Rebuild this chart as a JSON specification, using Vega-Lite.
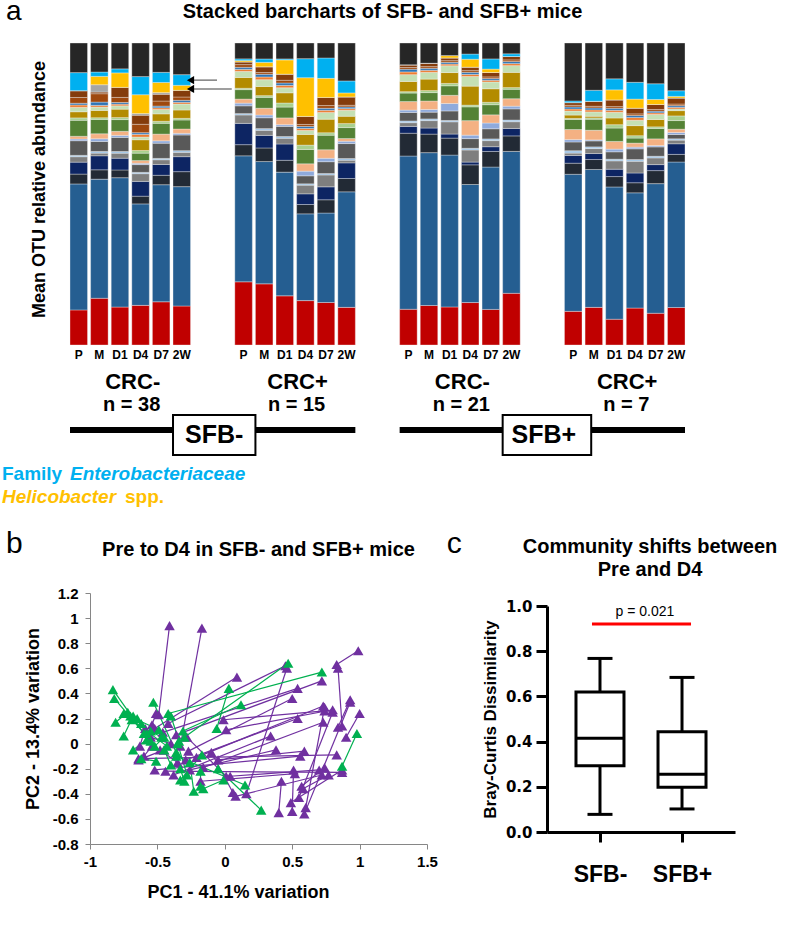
{
  "$schema": "https://vega.github.io/schema/vega-lite/v6.json",
  "padding": {"left": 2, "top": -2, "right": 0, "bottom": 0},
  "background": "white",
  "bounds": "flush",
  "spacing": 20,
  "resolve": {"scale": {"color": "independent"}},
  "config": {
    "font": "Liberation Sans",
    "view": {"stroke": null},
    "axis": {"labelFont": "Liberation Sans", "titleFont": "Liberation Sans", "labelColor": "#000", "titleColor": "#000", "grid": false},
    "title": {"font": "Liberation Sans", "fontWeight": "bold", "color": "#000", "fontSize": 20},
    "text": {"font": "Liberation Sans", "color": "#000"}
  },
  "vconcat": [
    {
      "width": 615,
      "height": 302,
      "layer": [
        {
          "data": {"values": [
            {"p":"1P","s01":103,"s02":370,"s03":29,"s04":35,"s05":16,"s06":4,"s07":43,"s08":5,"s09":8,"s10":47,"s11":7,"s12":18,"s13":13,"s14":7,"s15":5,"s16":17,"s17":20,"s18":0,"s19":0,"s20":53,"s21":87},
            {"p":"1M","s01":140,"s02":357,"s03":28,"s04":42,"s05":8,"s06":5,"s07":30,"s08":8,"s09":15,"s10":43,"s11":5,"s12":22,"s13":10,"s14":5,"s15":10,"s16":25,"s17":5,"s18":22,"s19":25,"s20":13,"s21":87},
            {"p":"1D1","s01":113,"s02":385,"s03":23,"s04":35,"s05":15,"s06":5,"s07":42,"s08":6,"s09":12,"s10":35,"s11":6,"s12":25,"s13":10,"s14":5,"s15":5,"s16":15,"s17":30,"s18":0,"s19":43,"s20":12,"s21":77},
            {"p":"1D4","s01":118,"s02":302,"s03":23,"s04":44,"s05":23,"s06":4,"s07":23,"s08":4,"s09":8,"s10":22,"s11":8,"s12":32,"s13":8,"s14":8,"s15":5,"s16":25,"s17":27,"s18":5,"s19":56,"s20":54,"s21":100},
            {"p":"1D7","s01":128,"s02":347,"s03":28,"s04":32,"s05":14,"s06":4,"s07":45,"s08":7,"s09":20,"s10":32,"s11":6,"s12":22,"s13":13,"s14":5,"s15":5,"s16":15,"s17":20,"s18":5,"s19":30,"s20":30,"s21":87},
            {"p":"12W","s01":117,"s02":358,"s03":45,"s04":45,"s05":13,"s06":5,"s07":47,"s08":5,"s09":13,"s10":27,"s11":5,"s12":25,"s13":18,"s14":5,"s15":6,"s16":10,"s17":20,"s18":0,"s19":15,"s20":32,"s21":95},
            {"p":"2P","s01":187,"s02":373,"s03":33,"s04":63,"s05":25,"s06":4,"s07":23,"s08":8,"s09":12,"s10":28,"s11":4,"s12":32,"s13":18,"s14":6,"s15":6,"s16":8,"s17":8,"s18":0,"s19":4,"s20":5,"s21":47},
            {"p":"2M","s01":180,"s02":360,"s03":40,"s04":37,"s05":15,"s06":5,"s07":32,"s08":8,"s09":20,"s10":32,"s11":5,"s12":27,"s13":20,"s14":8,"s15":8,"s16":5,"s17":17,"s18":0,"s19":13,"s20":10,"s21":47},
            {"p":"2D1","s01":145,"s02":365,"s03":35,"s04":48,"s05":17,"s06":5,"s07":30,"s08":5,"s09":20,"s10":32,"s11":12,"s12":30,"s13":15,"s14":7,"s15":7,"s16":8,"s17":18,"s18":0,"s19":42,"s20":3,"s21":47},
            {"p":"2D4","s01":133,"s02":260,"s03":28,"s04":32,"s05":26,"s06":4,"s07":24,"s08":14,"s09":22,"s10":43,"s11":13,"s12":32,"s13":12,"s14":6,"s15":6,"s16":6,"s17":24,"s18":0,"s19":116,"s20":57,"s21":47},
            {"p":"2D7","s01":125,"s02":263,"s03":39,"s04":38,"s05":35,"s06":4,"s07":35,"s08":10,"s09":25,"s10":43,"s11":7,"s12":40,"s13":20,"s14":6,"s15":6,"s16":8,"s17":24,"s18":0,"s19":56,"s20":60,"s21":44},
            {"p":"22W","s01":113,"s02":347,"s03":40,"s04":47,"s05":8,"s06":5,"s07":45,"s08":7,"s09":8,"s10":33,"s11":12,"s12":22,"s13":18,"s14":5,"s15":5,"s16":5,"s17":25,"s18":0,"s19":12,"s20":36,"s21":114},
            {"p":"3P","s01":105,"s02":450,"s03":67,"s04":20,"s05":11,"s06":5,"s07":25,"s08":7,"s09":25,"s10":25,"s11":4,"s12":30,"s13":20,"s14":8,"s15":8,"s16":5,"s17":8,"s18":0,"s19":0,"s20":0,"s21":64},
            {"p":"3M","s01":117,"s02":453,"s03":55,"s04":18,"s05":22,"s06":5,"s07":20,"s08":8,"s09":25,"s10":25,"s11":6,"s12":34,"s13":20,"s14":6,"s15":6,"s16":5,"s17":10,"s18":0,"s19":0,"s20":0,"s21":60},
            {"p":"3D1","s01":112,"s02":447,"s03":50,"s04":12,"s05":36,"s06":4,"s07":28,"s08":22,"s09":24,"s10":28,"s11":7,"s12":32,"s13":20,"s14":5,"s15":5,"s16":5,"s17":8,"s18":0,"s19":7,"s20":0,"s21":37},
            {"p":"3D4","s01":123,"s02":342,"s03":57,"s04":8,"s05":35,"s06":5,"s07":28,"s08":10,"s09":42,"s10":40,"s11":5,"s12":55,"s13":28,"s14":6,"s15":6,"s16":5,"s17":10,"s18":0,"s19":23,"s20":15,"s21":32},
            {"p":"3D7","s01":105,"s02":420,"s03":46,"s04":14,"s05":18,"s06":5,"s07":30,"s08":17,"s09":24,"s10":30,"s11":7,"s12":40,"s13":20,"s14":5,"s15":5,"s16":5,"s17":13,"s18":0,"s19":10,"s20":30,"s21":47},
            {"p":"32W","s01":153,"s02":420,"s03":46,"s04":22,"s05":20,"s06":5,"s07":33,"s08":8,"s09":22,"s10":28,"s11":5,"s12":45,"s13":20,"s14":6,"s15":6,"s16":5,"s17":10,"s18":0,"s19":0,"s20":8,"s21":32},
            {"p":"4P","s01":100,"s02":407,"s03":33,"s04":23,"s05":7,"s06":7,"s07":26,"s08":7,"s09":30,"s10":30,"s11":3,"s12":10,"s13":12,"s14":6,"s15":6,"s16":5,"s17":8,"s18":0,"s19":0,"s20":5,"s21":172},
            {"p":"4M","s01":113,"s02":414,"s03":30,"s04":18,"s05":15,"s06":5,"s07":18,"s08":3,"s09":29,"s10":33,"s11":4,"s12":5,"s13":13,"s14":6,"s15":6,"s16":5,"s17":15,"s18":0,"s19":0,"s20":33,"s21":142},
            {"p":"4D1","s01":77,"s02":395,"s03":31,"s04":22,"s05":25,"s06":5,"s07":22,"s08":8,"s09":23,"s10":40,"s11":10,"s12":20,"s13":17,"s14":6,"s15":6,"s16":5,"s17":20,"s18":0,"s19":30,"s20":33,"s21":107},
            {"p":"4D4","s01":110,"s02":343,"s03":30,"s04":29,"s05":35,"s06":5,"s07":32,"s08":5,"s09":12,"s10":15,"s11":7,"s12":30,"s13":16,"s14":8,"s15":6,"s16":5,"s17":17,"s18":0,"s19":27,"s20":50,"s21":117},
            {"p":"4D7","s01":95,"s02":388,"s03":39,"s04":18,"s05":20,"s06":5,"s07":28,"s08":4,"s09":20,"s10":31,"s11":5,"s12":22,"s13":15,"s14":5,"s15":5,"s16":5,"s17":15,"s18":0,"s19":15,"s20":47,"s21":122},
            {"p":"42W","s01":113,"s02":439,"s03":23,"s04":32,"s05":11,"s06":4,"s07":13,"s08":6,"s09":10,"s10":26,"s11":14,"s12":16,"s13":5,"s14":5,"s15":5,"s16":5,"s17":18,"s18":0,"s19":5,"s20":17,"s21":144}
          ]},
          "transform": [{"fold": ["s01","s02","s03","s04","s05","s06","s07","s08","s09","s10","s11","s12","s13","s14","s15","s16","s17","s18","s19","s20","s21"], "as": ["k", "v"]}],
          "mark": {"type": "bar", "stroke": "#f4f4f4", "strokeWidth": 0.35},
          "encoding": {
            "x": {"field": "p", "type": "nominal",
              "scale": {"domain": ["1P","1M","1D1","1D4","1D7","12W","x1","x2","2P","2M","2D1","2D4","2D7","22W","x3","x4","3P","3M","3D1","3D4","3D7","32W","x5","x6","4P","4M","4D1","4D4","4D7","42W"], "paddingInner": 0.15, "paddingOuter": 0},
              "axis": {"title": null, "ticks": false, "domain": false, "labelAngle": 0, "labelFontSize": 12, "labelFontWeight": "bold", "labelPadding": 4, "labelOverlap": false, "labelExpr": "indexof(datum.value, 'x') === 0 ? '' : substring(datum.value, 1)"}},
            "y": {"field": "v", "type": "quantitative", "stack": "normalize",
              "axis": {"title": "Mean OTU relative abundance", "labels": false, "ticks": false, "domain": false, "grid": false, "titleFontSize": 18, "titleFontWeight": "bold", "titlePadding": 22, "titleY": 146, "minExtent": 0}},
            "color": {"field": "k", "type": "nominal", "legend": null,
              "scale": {"domain": ["s01","s02","s03","s04","s05","s06","s07","s08","s09","s10","s11","s12","s13","s14","s15","s16","s17","s18","s19","s20","s21"],
                "range": ["#C00000","#255E91","#222A35","#0D2563","#7F7F7F","#9DC3E6","#595959","#8FAADC","#F4B183","#548235","#A9D18E","#B38B00","#C5E0B4","#ED7D31","#2E75B6","#9E480E","#843C0C","#A5A5A5","#FFC000","#00B0F0","#262626"]}},
            "order": {"field": "k", "type": "ordinal", "sort": "ascending"}
          }
        },
        {
          "data": {"values": [{"p": "x1", "q": "x2"}]},
          "mark": {"type": "rule", "color": "#7F7F7F", "strokeWidth": 1.5},
          "encoding": {
            "x": {"field": "p", "type": "nominal", "bandPosition": 0},
            "x2": {"field": "q", "bandPosition": 0.16},
            "y": {"datum": 0.877}
          }
        },
        {
          "data": {"values": [{"p": "x1", "q": "x2"}]},
          "mark": {"type": "rule", "color": "#7F7F7F", "strokeWidth": 1.5},
          "encoding": {
            "x": {"field": "p", "type": "nominal", "bandPosition": 0},
            "x2": {"field": "q", "bandPosition": 1},
            "y": {"datum": 0.848}
          }
        },
        {
          "data": {"values": [{"p": "12W"}]},
          "mark": {"type": "point", "shape": "triangle-left", "filled": true, "size": 70, "opacity": 1, "color": "#000"},
          "encoding": {
            "x": {"field": "p", "type": "nominal", "bandPosition": 1},
            "y": {"datum": 0.877}
          }
        },
        {
          "data": {"values": [{"p": "12W"}]},
          "mark": {"type": "point", "shape": "triangle-left", "filled": true, "size": 70, "opacity": 1, "color": "#000"},
          "encoding": {
            "x": {"field": "p", "type": "nominal", "bandPosition": 1},
            "y": {"datum": 0.848}
          }
        },
        {
          "data": {"values": [{"p": "1P"}]},
          "mark": {"type": "text", "fontSize": 28, "align": "left", "baseline": "alphabetic", "dx": -64, "dy": -23},
          "encoding": {
            "x": {"field": "p", "type": "nominal", "bandPosition": 0},
            "y": {"datum": 1},
            "text": {"value": "a"}
          }
        },
        {
          "data": {"values": [{"p": "x3"}]},
          "mark": {"type": "text", "fontSize": 20, "fontWeight": "bold", "align": "center", "baseline": "alphabetic", "dx": 6.6, "dy": -24.7},
          "encoding": {
            "x": {"field": "p", "type": "nominal", "bandPosition": 1},
            "y": {"datum": 1},
            "text": {"value": "Stacked barcharts of SFB- and SFB+ mice"}
          }
        }
      ]
    },
    {
      "width": 615,
      "height": 208,
      "layer": [
        {
          "data": {"values": [{"p": "1D1", "lab": "CRC-"}, {"p": "2D1", "lab": "CRC+"}, {"p": "3D1", "lab": "CRC-"}, {"p": "4D1", "lab": "CRC+"}]},
          "mark": {"type": "text", "fontSize": 22, "fontWeight": "bold", "align": "center", "baseline": "alphabetic", "dx": 4},
          "encoding": {
            "x": {"field": "p", "type": "nominal", "bandPosition": 1, "axis": null,
              "scale": {"domain": ["1P","1M","1D1","1D4","1D7","12W","x1","x2","2P","2M","2D1","2D4","2D7","22W","x3","x4","3P","3M","3D1","3D4","3D7","32W","x5","x6","4P","4M","4D1","4D4","4D7","42W"], "paddingInner": 0.15, "paddingOuter": 0}},
            "y": {"datum": 24, "axis": null, "scale": {"domain": [0, 208], "reverse": true, "nice": false, "zero": false}},
            "text": {"field": "lab"}
          }
        },
        {
          "data": {"values": [{"p": "1D1", "lab": "n = 38"}, {"p": "2D1", "lab": "n = 15"}, {"p": "3D1", "lab": "n = 21"}, {"p": "4D1", "lab": "n = 7"}]},
          "mark": {"type": "text", "fontSize": 20, "fontWeight": "bold", "align": "center", "baseline": "alphabetic", "dx": 3},
          "encoding": {
            "x": {"field": "p", "type": "nominal", "bandPosition": 1},
            "y": {"datum": 46},
            "text": {"field": "lab"}
          }
        },
        {
          "data": {"values": [{"p": "1P", "q": "22W"}, {"p": "3P", "q": "42W"}]},
          "mark": {"type": "rule", "strokeWidth": 6, "color": "#000"},
          "encoding": {
            "x": {"field": "p", "type": "nominal", "bandPosition": 0},
            "x2": {"field": "q", "bandPosition": 1},
            "y": {"datum": 65}
          }
        },
        {
          "data": {"values": [{"p": "12W", "q": "2M"}]},
          "mark": {"type": "rect", "fill": "#fff", "stroke": "#000", "strokeWidth": 2},
          "encoding": {
            "x": {"field": "p", "type": "nominal", "bandPosition": 0},
            "x2": {"field": "q", "bandPosition": 0},
            "y": {"datum": 50},
            "y2": {"datum": 90}
          }
        },
        {
          "data": {"values": [{"p": "32W", "q": "4M"}]},
          "mark": {"type": "rect", "fill": "#fff", "stroke": "#000", "strokeWidth": 2},
          "encoding": {
            "x": {"field": "p", "type": "nominal", "bandPosition": 0},
            "x2": {"field": "q", "bandPosition": 0.35},
            "y": {"datum": 50},
            "y2": {"datum": 90}
          }
        },
        {
          "data": {"values": [{"p": "x1", "lab": "SFB-"}, {"p": "x5", "lab": "SFB+"}]},
          "mark": {"type": "text", "fontSize": 25, "fontWeight": "bold", "align": "center", "baseline": "alphabetic", "dx": 3},
          "encoding": {
            "x": {"field": "p", "type": "nominal", "bandPosition": 1},
            "y": {"datum": 78},
            "text": {"field": "lab"}
          }
        },
        {
          "data": {"values": [{"p": "1P"}]},
          "mark": {"type": "text", "fontSize": 19, "fontWeight": "bold", "align": "left", "baseline": "alphabetic", "dx": -68, "color": "#00B0F0"},
          "encoding": {"x": {"field": "p", "type": "nominal", "bandPosition": 0}, "y": {"datum": 115}, "text": {"value": "Family"}}
        },
        {
          "data": {"values": [{"p": "1P"}]},
          "mark": {"type": "text", "fontSize": 19, "fontWeight": "bold", "fontStyle": "italic", "align": "left", "baseline": "alphabetic", "dx": 0, "color": "#00B0F0"},
          "encoding": {"x": {"field": "p", "type": "nominal", "bandPosition": 0}, "y": {"datum": 115}, "text": {"value": "Enterobacteriaceae"}}
        },
        {
          "data": {"values": [{"p": "1P"}]},
          "mark": {"type": "text", "fontSize": 19, "fontWeight": "bold", "fontStyle": "italic", "align": "left", "baseline": "alphabetic", "dx": -68, "color": "#FFC000"},
          "encoding": {"x": {"field": "p", "type": "nominal", "bandPosition": 0}, "y": {"datum": 138}, "text": {"value": "Helicobacter"}}
        },
        {
          "data": {"values": [{"p": "1P"}]},
          "mark": {"type": "text", "fontSize": 19, "fontWeight": "bold", "align": "left", "baseline": "alphabetic", "dx": 55, "color": "#FFC000"},
          "encoding": {"x": {"field": "p", "type": "nominal", "bandPosition": 0}, "y": {"datum": 138}, "text": {"value": "spp."}}
        },
        {
          "data": {"values": [{"p": "1P"}]},
          "mark": {"type": "text", "fontSize": 30, "align": "left", "baseline": "alphabetic", "dx": -64},
          "encoding": {"x": {"field": "p", "type": "nominal", "bandPosition": 0}, "y": {"datum": 188}, "text": {"value": "b"}}
        },
        {
          "data": {"values": [{"p": "32W"}]},
          "mark": {"type": "text", "fontSize": 30, "align": "left", "baseline": "alphabetic", "dx": -56},
          "encoding": {"x": {"field": "p", "type": "nominal", "bandPosition": 0}, "y": {"datum": 188}, "text": {"value": "c"}}
        }
      ]
    },
    {
      "bounds": "flush",
      "spacing": 19,
      "hconcat": [
        {"width": 1, "height": 1, "data": {"values": [{"z": 1}]}, "mark": {"type": "point", "opacity": 0}},
        {
          "bounds": "flush",
          "spacing": 120,
          "hconcat": [
            {
              "width": 337,
              "height": 251,
              "title": {"text": "Pre to D4 in SFB- and SFB+ mice", "offset": 26, "frame": "group", "anchor": "middle"},
              "data": {"values": [
                {"g":"SFB-","id":"p1","pc1":-0.49,"pc2":0.23},{"g":"SFB-","id":"p1","pc1":-0.41,"pc2":0.94},
                {"g":"SFB-","id":"p2","pc1":-0.33,"pc2":-0.02},{"g":"SFB-","id":"p2","pc1":-0.17,"pc2":0.92},
                {"g":"SFB-","id":"p3","pc1":0.83,"pc2":0.63},{"g":"SFB-","id":"p3","pc1":0.99,"pc2":0.74},
                {"g":"SFB-","id":"p4","pc1":0.84,"pc2":0.6},{"g":"SFB-","id":"p4","pc1":0.87,"pc2":0.14},
                {"g":"SFB-","id":"p5","pc1":-0.42,"pc2":0.16},{"g":"SFB-","id":"p5","pc1":0.45,"pc2":0.62},
                {"g":"SFB-","id":"p6","pc1":-0.52,"pc2":0.12},{"g":"SFB-","id":"p6","pc1":0.09,"pc2":0.53},
                {"g":"SFB-","id":"p7","pc1":-0.36,"pc2":0.07},{"g":"SFB-","id":"p7","pc1":0.72,"pc2":0.5},
                {"g":"SFB-","id":"p8","pc1":-0.46,"pc2":0.09},{"g":"SFB-","id":"p8","pc1":0.54,"pc2":0.44},
                {"g":"SFB-","id":"p9","pc1":-0.27,"pc2":-0.06},{"g":"SFB-","id":"p9","pc1":0.5,"pc2":0.36},
                {"g":"SFB-","id":"p10","pc1":0.84,"pc2":0.13},{"g":"SFB-","id":"p10","pc1":0.93,"pc2":0.35},
                {"g":"SFB-","id":"p11","pc1":0.9,"pc2":0.05},{"g":"SFB-","id":"p11","pc1":1.0,"pc2":0.24},
                {"g":"SFB-","id":"p12","pc1":-0.21,"pc2":-0.11},{"g":"SFB-","id":"p12","pc1":0.73,"pc2":0.3},
                {"g":"SFB-","id":"p13","pc1":-0.01,"pc2":0.19},{"g":"SFB-","id":"p13","pc1":0.74,"pc2":0.26},
                {"g":"SFB-","id":"p14","pc1":0.01,"pc2":0.11},{"g":"SFB-","id":"p14","pc1":0.8,"pc2":0.27},
                {"g":"SFB-","id":"p15","pc1":-0.29,"pc2":-0.13},{"g":"SFB-","id":"p15","pc1":0.54,"pc2":0.2},
                {"g":"SFB-","id":"p16","pc1":-0.16,"pc2":-0.19},{"g":"SFB-","id":"p16","pc1":0.73,"pc2":0.17},
                {"g":"SFB-","id":"p17","pc1":-0.38,"pc2":-0.25},{"g":"SFB-","id":"p17","pc1":0.34,"pc2":0.06},
                {"g":"SFB-","id":"p18","pc1":-0.26,"pc2":-0.21},{"g":"SFB-","id":"p18","pc1":0.38,"pc2":-0.05},
                {"g":"SFB-","id":"p19","pc1":-0.64,"pc2":-0.12},{"g":"SFB-","id":"p19","pc1":0.83,"pc2":-0.09},
                {"g":"SFB-","id":"p20","pc1":-0.05,"pc2":-0.13},{"g":"SFB-","id":"p20","pc1":0.59,"pc2":-0.06},
                {"g":"SFB-","id":"p21","pc1":-0.52,"pc2":-0.21},{"g":"SFB-","id":"p21","pc1":0.56,"pc2":-0.1},
                {"g":"SFB-","id":"p22","pc1":-0.44,"pc2":-0.22},{"g":"SFB-","id":"p22","pc1":0.87,"pc2":-0.23},
                {"g":"SFB-","id":"p23","pc1":0.04,"pc2":-0.26},{"g":"SFB-","id":"p23","pc1":0.7,"pc2":-0.21},
                {"g":"SFB-","id":"p24","pc1":-0.18,"pc2":-0.3},{"g":"SFB-","id":"p24","pc1":0.52,"pc2":-0.24},
                {"g":"SFB-","id":"p25","pc1":0.06,"pc2":-0.39},{"g":"SFB-","id":"p25","pc1":-0.1,"pc2":-0.07},
                {"g":"SFB-","id":"p26","pc1":0.08,"pc2":-0.42},{"g":"SFB-","id":"p26","pc1":0.72,"pc2":-0.25},
                {"g":"SFB-","id":"p27","pc1":0.16,"pc2":-0.4},{"g":"SFB-","id":"p27","pc1":0.46,"pc2":0.6},
                {"g":"SFB-","id":"p28","pc1":0.42,"pc2":-0.3},{"g":"SFB-","id":"p28","pc1":0.4,"pc2":-0.55},
                {"g":"SFB-","id":"p29","pc1":0.58,"pc2":-0.36},{"g":"SFB-","id":"p29","pc1":0.77,"pc2":-0.25},
                {"g":"SFB-","id":"p30","pc1":0.57,"pc2":-0.34},{"g":"SFB-","id":"p30","pc1":0.74,"pc2":-0.19},
                {"g":"SFB-","id":"p31","pc1":0.59,"pc2":-0.56},{"g":"SFB-","id":"p31","pc1":0.93,"pc2":0.33},
                {"g":"SFB-","id":"p32","pc1":0.5,"pc2":-0.54},{"g":"SFB-","id":"p32","pc1":0.51,"pc2":-0.21},
                {"g":"SFB-","id":"p33","pc1":0.55,"pc2":-0.43},{"g":"SFB-","id":"p33","pc1":0.8,"pc2":0.25},
                {"g":"SFB-","id":"p34","pc1":0.6,"pc2":-0.51},{"g":"SFB-","id":"p34","pc1":0.74,"pc2":0.29},
                {"g":"SFB-","id":"p35","pc1":0.49,"pc2":-0.47},{"g":"SFB-","id":"p35","pc1":0.87,"pc2":-0.21},
                {"g":"SFB-","id":"p36","pc1":-0.51,"pc2":0.24},{"g":"SFB-","id":"p36","pc1":-0.54,"pc2":0.15},
                {"g":"SFB-","id":"p37","pc1":-0.59,"pc2":0.12},{"g":"SFB-","id":"p37","pc1":-0.63,"pc2":-0.02},
                {"g":"SFB-","id":"p38","pc1":-0.54,"pc2":-0.02},{"g":"SFB-","id":"p38","pc1":-0.6,"pc2":-0.1},
                {"g":"SFB-","id":"p39","pc1":-0.28,"pc2":0.05},{"g":"SFB-","id":"p39","pc1":0.01,"pc2":-0.26},
                {"g":"SFB-","id":"p40","pc1":-0.64,"pc2":-0.13},{"g":"SFB-","id":"p40","pc1":-0.45,"pc2":-0.05},
                {"g":"SFB-","id":"p41","pc1":-0.55,"pc2":0.05},{"g":"SFB-","id":"p41","pc1":-0.4,"pc2":0.0},
                {"g":"SFB-","id":"p42","pc1":-0.48,"pc2":-0.05},{"g":"SFB-","id":"p42","pc1":-0.35,"pc2":-0.15},
                {"g":"SFB+","id":"q1","pc1":-0.83,"pc2":0.43},{"g":"SFB+","id":"q1","pc1":-0.6,"pc2":0.08},
                {"g":"SFB+","id":"q2","pc1":-0.82,"pc2":0.36},{"g":"SFB+","id":"q2","pc1":-0.55,"pc2":0.02},
                {"g":"SFB+","id":"q3","pc1":-0.81,"pc2":0.17},{"g":"SFB+","id":"q3","pc1":-0.72,"pc2":0.25},
                {"g":"SFB+","id":"q4","pc1":-0.75,"pc2":0.06},{"g":"SFB+","id":"q4","pc1":-0.68,"pc2":0.22},
                {"g":"SFB+","id":"q5","pc1":-0.75,"pc2":0.24},{"g":"SFB+","id":"q5","pc1":-0.49,"pc2":0.11},
                {"g":"SFB+","id":"q6","pc1":-0.69,"pc2":0.19},{"g":"SFB+","id":"q6","pc1":-0.43,"pc2":-0.02},
                {"g":"SFB+","id":"q7","pc1":-0.68,"pc2":-0.05},{"g":"SFB+","id":"q7","pc1":-0.58,"pc2":0.03},
                {"g":"SFB+","id":"q8","pc1":-0.62,"pc2":-0.12},{"g":"SFB+","id":"q8","pc1":-0.51,"pc2":-0.14},
                {"g":"SFB+","id":"q9","pc1":-0.53,"pc2":0.33},{"g":"SFB+","id":"q9","pc1":-0.36,"pc2":-0.07},
                {"g":"SFB+","id":"q10","pc1":-0.42,"pc2":0.24},{"g":"SFB+","id":"q10","pc1":0.72,"pc2":0.57},
                {"g":"SFB+","id":"q11","pc1":-0.3,"pc2":0.05},{"g":"SFB+","id":"q11","pc1":0.47,"pc2":0.64},
                {"g":"SFB+","id":"q12","pc1":-0.31,"pc2":0.1},{"g":"SFB+","id":"q12","pc1":0.12,"pc2":0.31},
                {"g":"SFB+","id":"q13","pc1":0.03,"pc2":0.44},{"g":"SFB+","id":"q13","pc1":-0.06,"pc2":0.12},
                {"g":"SFB+","id":"q14","pc1":-0.33,"pc2":-0.29},{"g":"SFB+","id":"q14","pc1":-0.17,"pc2":-0.09},
                {"g":"SFB+","id":"q15","pc1":-0.23,"pc2":-0.38},{"g":"SFB+","id":"q15","pc1":-0.26,"pc2":-0.15},
                {"g":"SFB+","id":"q16","pc1":-0.18,"pc2":-0.34},{"g":"SFB+","id":"q16","pc1":-0.18,"pc2":-0.22},
                {"g":"SFB+","id":"q17","pc1":-0.16,"pc2":-0.36},{"g":"SFB+","id":"q17","pc1":-0.01,"pc2":-0.29},
                {"g":"SFB+","id":"q18","pc1":0.15,"pc2":-0.33},{"g":"SFB+","id":"q18","pc1":-0.36,"pc2":-0.1},
                {"g":"SFB+","id":"q19","pc1":0.27,"pc2":-0.53},{"g":"SFB+","id":"q19","pc1":-0.05,"pc2":-0.2},
                {"g":"SFB+","id":"q20","pc1":0.98,"pc2":0.08},{"g":"SFB+","id":"q20","pc1":0.87,"pc2":-0.18},
                {"g":"SFB+","id":"q21","pc1":-0.45,"pc2":-0.05},{"g":"SFB+","id":"q21","pc1":-0.4,"pc2":-0.17},
                {"g":"SFB+","id":"q22","pc1":-0.35,"pc2":0.0},{"g":"SFB+","id":"q22","pc1":-0.28,"pc2":-0.25},
                {"g":"SFB+","id":"q23","pc1":-0.55,"pc2":0.1},{"g":"SFB+","id":"q23","pc1":-0.47,"pc2":0.05},
                {"g":"SFB+","id":"q24","pc1":-0.58,"pc2":0.08},{"g":"SFB+","id":"q24","pc1":-0.62,"pc2":0.16},
                {"g":"SFB+","id":"q25","pc1":-0.33,"pc2":-0.2},{"g":"SFB+","id":"q25","pc1":-0.3,"pc2":-0.3},
                {"g":"SFB+","id":"q26","pc1":-0.7,"pc2":0.22},{"g":"SFB+","id":"q26","pc1":-0.65,"pc2":0.2},
                {"g":"SFB+","id":"q27","pc1":-0.4,"pc2":0.22},{"g":"SFB+","id":"q27","pc1":-0.34,"pc2":0.02},
                {"g":"SFB+","id":"q28","pc1":-0.52,"pc2":-0.02},{"g":"SFB+","id":"q28","pc1":-0.45,"pc2":0.05}
              ]},
              "encoding": {
                "x": {"field": "pc1", "type": "quantitative",
                  "scale": {"domain": [-1, 1.5], "nice": false, "zero": false},
                  "axis": {"title": "PC1 - 41.1% variation", "values": [-1, -0.5, 0, 0.5, 1, 1.5], "labelExpr": "'' + datum.value", "grid": false, "domainColor": "#868686", "tickColor": "#868686", "tickSize": 5, "labelFontSize": 15, "labelFontWeight": "bold", "labelPadding": 5, "labelFlush": false, "labelOverlap": false, "titleFontSize": 18, "titleFontWeight": "bold", "titlePadding": 14, "titleX": 148}},
                "y": {"field": "pc2", "type": "quantitative",
                  "scale": {"domain": [-0.8, 1.2], "nice": false, "zero": false},
                  "axis": {"title": "PC2 - 13.4% variation", "values": [-0.8, -0.6, -0.4, -0.2, 0, 0.2, 0.4, 0.6, 0.8, 1, 1.2], "labelExpr": "'' + datum.value", "grid": false, "domainColor": "#868686", "tickColor": "#868686", "tickSize": 5, "labelFontSize": 15, "labelFontWeight": "bold", "labelPadding": 7, "labelFlush": false, "labelOverlap": false, "titleFontSize": 18, "titleFontWeight": "bold", "titlePadding": 10}}
              },
              "layer": [
                {"transform": [{"filter": "datum.g === 'SFB-'"}], "mark": {"type": "line", "strokeWidth": 1.2, "color": "#7030A0"}, "encoding": {"detail": {"field": "id", "type": "nominal"}}},
                {"transform": [{"filter": "datum.g === 'SFB+'"}], "mark": {"type": "line", "strokeWidth": 1.2, "color": "#00B050"}, "encoding": {"detail": {"field": "id", "type": "nominal"}}},
                {"transform": [{"filter": "datum.g === 'SFB-'"}], "mark": {"type": "point", "shape": "triangle-up", "filled": true, "size": 110, "opacity": 1, "color": "#7030A0"}},
                {"transform": [{"filter": "datum.g === 'SFB+'"}], "mark": {"type": "point", "shape": "triangle-up", "filled": true, "size": 110, "opacity": 1, "color": "#00B050"}}
              ]
            },
            {
              "bounds": "flush",
              "spacing": 12,
              "vconcat": [
                {"width": 1, "height": 1, "data": {"values": [{"z": 1}]}, "mark": {"type": "point", "opacity": 0}},
                {
                  "width": 188,
                  "height": 226,
                  "title": {"text": ["Community shifts between", "Pre and D4"], "offset": 19, "dx": 9, "lineHeight": 23, "frame": "group", "anchor": "middle"},
                  "data": {"values": [
                    {"grp": "SFB-", "lo": 0.078, "q1": 0.293, "med": 0.415, "q3": 0.62, "hi": 0.768},
                    {"grp": "SFB+", "lo": 0.102, "q1": 0.198, "med": 0.255, "q3": 0.444, "hi": 0.684}
                  ]},
                  "encoding": {
                    "x": {"field": "grp", "type": "nominal",
                      "scale": {"type": "point", "domain": ["SFB-", "SFB+"], "padding": 0.646},
                      "axis": {"title": null, "labelAngle": 0, "labelFontSize": 23, "labelFontWeight": "bold", "labelPadding": 21, "tickSize": 10, "tickWidth": 3, "tickColor": "#000", "domainWidth": 3, "domainColor": "#000"}}
                  },
                  "layer": [
                    {"mark": {"type": "rule", "strokeWidth": 3, "color": "#000"},
                     "encoding": {"y": {"field": "lo", "type": "quantitative", "scale": {"domain": [0, 1], "nice": false},
                        "axis": {"title": "Bray-Curtis Dissimilarity", "values": [0, 0.2, 0.4, 0.6, 0.8, 1], "format": ".1f", "grid": false, "tickSize": 11, "tickWidth": 3, "tickColor": "#000", "domainWidth": 3, "domainColor": "#000", "labelFont": "DejaVu Sans", "labelFontSize": 15, "labelFontWeight": "bold", "labelPadding": 4, "titleFontSize": 17, "titleFontWeight": "bold", "titlePadding": 6}},
                        "y2": {"field": "hi"}}},
                    {"mark": {"type": "bar", "fill": "#fff", "stroke": "#000", "strokeWidth": 3, "width": 48},
                     "encoding": {"y": {"field": "q1", "type": "quantitative", "title": "Bray-Curtis Dissimilarity"}, "y2": {"field": "q3"}}},
                    {"mark": {"type": "tick", "orient": "horizontal", "size": 48, "thickness": 3, "color": "#000", "opacity": 1},
                     "encoding": {"y": {"field": "med", "type": "quantitative", "title": "Bray-Curtis Dissimilarity"}}},
                    {"mark": {"type": "tick", "orient": "horizontal", "size": 25, "thickness": 3, "color": "#000", "opacity": 1},
                     "encoding": {"y": {"field": "lo", "type": "quantitative", "title": "Bray-Curtis Dissimilarity"}}},
                    {"mark": {"type": "tick", "orient": "horizontal", "size": 25, "thickness": 3, "color": "#000", "opacity": 1},
                     "encoding": {"y": {"field": "hi", "type": "quantitative", "title": "Bray-Curtis Dissimilarity"}}},
                    {"data": {"values": [{"a": "SFB-", "b": "SFB+"}]},
                     "mark": {"type": "rule", "color": "#FF0000", "strokeWidth": 3, "xOffset": -8, "x2Offset": 9},
                     "encoding": {"x": {"field": "a", "type": "nominal"}, "x2": {"field": "b"}, "y": {"datum": 0.92}}},
                    {"data": {"values": [{"a": "SFB-"}]},
                     "mark": {"type": "text", "fontSize": 14, "dx": 45, "align": "center", "baseline": "alphabetic"},
                     "encoding": {"x": {"field": "a", "type": "nominal"}, "y": {"datum": 0.956}, "text": {"value": "p = 0.021"}}}
                  ]
                }
              ]
            }
          ]
        }
      ]
    }
  ]
}
